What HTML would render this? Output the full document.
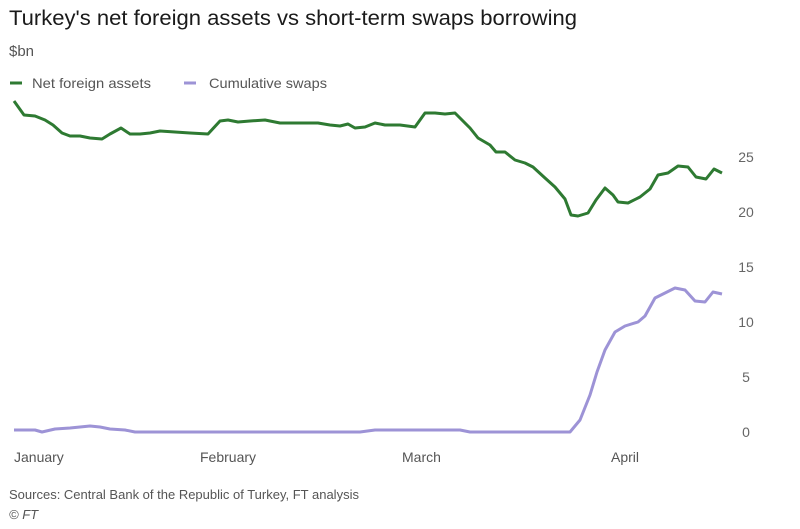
<!DOCTYPE html>
<html><head><meta charset="utf-8"><style>
body{margin:0;background:#fff;}
svg{display:block;font-family:"Liberation Sans",sans-serif;}
</style></head><body>
<svg width="800" height="529" viewBox="0 0 800 529">
<text x="9" y="25" font-size="21" fill="#1a1a1a" textLength="568" lengthAdjust="spacingAndGlyphs">Turkey's net foreign assets vs short-term swaps borrowing</text>
<text x="9" y="56" font-size="15" fill="#555">$bn</text>
<line x1="10" y1="83" x2="22" y2="83" stroke="#2e7a32" stroke-width="3"/>
<text x="32" y="88" font-size="14" fill="#555" textLength="119" lengthAdjust="spacingAndGlyphs">Net foreign assets</text>
<line x1="184" y1="83" x2="196" y2="83" stroke="#9d93d6" stroke-width="3"/>
<text x="209" y="88" font-size="14" fill="#555" textLength="118" lengthAdjust="spacingAndGlyphs">Cumulative swaps</text>
<g font-size="14" fill="#666" text-anchor="middle">
<text x="746" y="162">25</text><text x="746" y="217">20</text><text x="746" y="272">15</text>
<text x="746" y="327">10</text><text x="746" y="382">5</text><text x="746" y="437">0</text>
</g>
<g font-size="14" fill="#555">
<text x="14" y="462">January</text><text x="200" y="462">February</text><text x="402" y="462">March</text><text x="611" y="462">April</text>
</g>
<polyline fill="none" stroke="#2e7a32" stroke-width="3" stroke-linejoin="round" points="14,101 24,115 35,116 45,120 53,125 62,133 70,136 80,136 90,138 102,139 110,134 121,128 130,134 140,134 150,133 160,131 175,132 190,133 208,134 220,121 228,120 238,122 250,121 265,120 280,123 300,123 318,123 330,125 340,126 348,124 355,128 365,127 375,123 385,125 400,125 415,127 425,113 435,113 445,114 455,113 470,128 478,138 490,145 496,152 505,152 515,160 525,163 533,167 545,178 555,187 565,199 571,215 578,216 588,213 596,200 605,188 613,195 618,202 628,203 640,197 650,189 658,175 668,173 678,166 688,167 696,177 706,179 714,169 722,173"/>
<polyline fill="none" stroke="#9d93d6" stroke-width="3" stroke-linejoin="round" points="14,430 35,430 42,432 55,429 70,428 80,427 90,426 100,427 110,429 125,430 135,432 170,432 200,432 300,432 360,432 375,430 400,430 420,430 460,430 470,432 520,432 560,432 570,432 580,420 590,395 597,372 605,350 615,332 625,326 638,322 645,316 655,298 665,293 675,288 685,290 695,301 705,302 713,292 722,294"/>
<text x="9" y="499" font-size="13" fill="#555">Sources: Central Bank of the Republic of Turkey, FT analysis</text>
<text x="9" y="519" font-size="13" fill="#555" font-style="italic">© FT</text>
</svg>
</body></html>
